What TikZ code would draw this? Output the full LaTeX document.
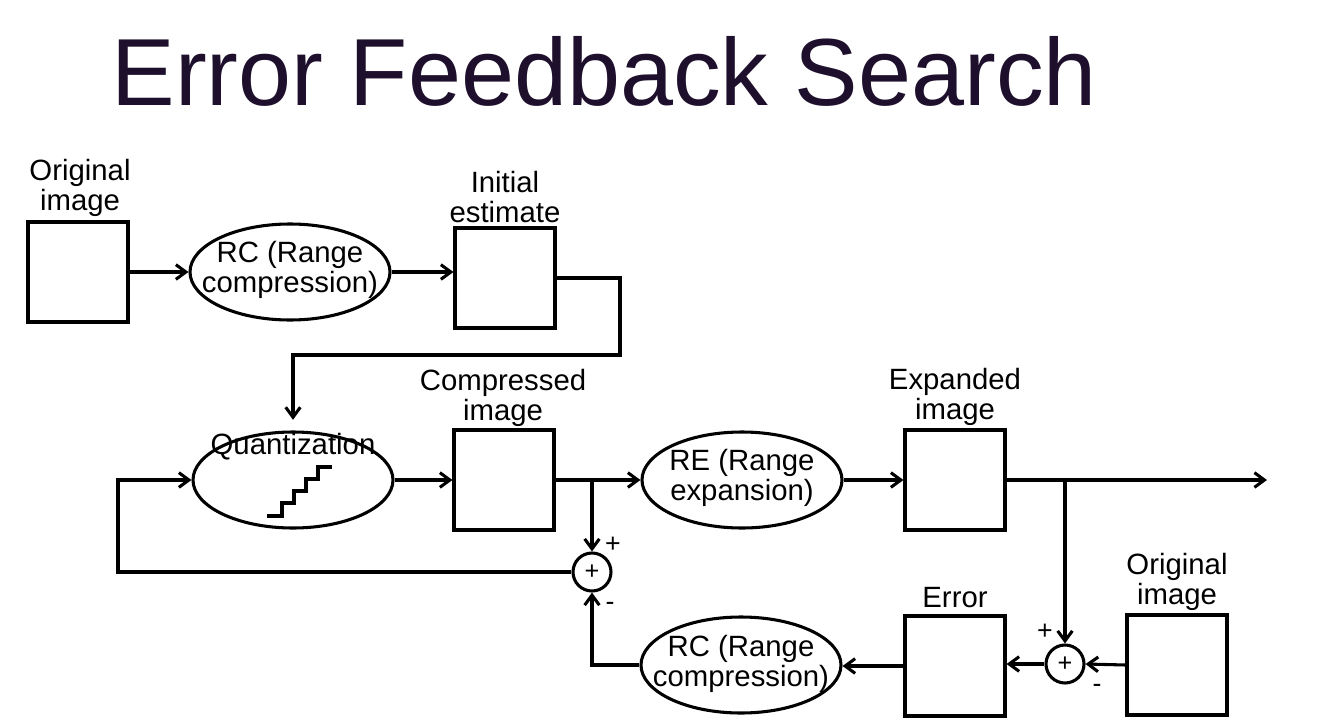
\documentclass[tikz,border=0pt]{standalone}
\usepackage{fontspec}
\setmainfont{Liberation Sans}
\usetikzlibrary{arrows.meta,shapes.geometric}
\definecolor{titlecol}{RGB}{30,15,45}
\begin{document}
\begin{tikzpicture}[x=0.75pt,y=-0.75pt,
  line width=2.3pt,
  lbl/.style={font=\fontsize{22}{22.5}\selectfont,align=center,inner sep=0pt},
  boxn/.style={draw,minimum width=75pt,minimum height=75pt,inner sep=0pt},
  ell/.style={draw,ellipse,minimum width=150pt,minimum height=72pt,inner sep=0pt},
  sumn/.style={draw,circle,minimum size=28.5pt,inner sep=0pt,font=\fontsize{19}{19}\selectfont},
  sgn/.style={font=\fontsize{20}{20}\selectfont,inner sep=0pt},
  arr/.style={-{Straight Barb[length=7.5pt,width=11pt,line width=2.3pt]}}]
\useasboundingbox (0,0) rectangle (1331,721);
% title
\node[anchor=base west,inner sep=0pt,text=titlecol,font=\fontsize{71.5}{71.5}\selectfont] (title) at (110,105) {Error Feedback Search};
% boxes
\node[boxn] (orig1) at (78,272) {};
\node[boxn] (init) at (505,278) {};
\node[boxn] (comp) at (504,480) {};
\node[boxn] (exp) at (955,480) {};
\node[boxn] (err) at (955,666) {};
\node[boxn] (orig2) at (1177,665) {};
% box labels
\node[lbl] (lo1) at (80,188) {Original\\image};
\node[lbl] (lin) at (505,197) {Initial\\estimate};
\node[lbl] (lco) at (503,398) {Compressed\\image};
\node[lbl] (lex) at (955,397) {Expanded\\image};
\node[lbl] (lo2) at (1177,582) {Original\\image};
\node[lbl] (ler) at (955,598) {Error};
% ellipses
\node[ell] (rc1) at (290,272) {};
\node[lbl] (rc1t) at (290,270) {RC (Range\\compression)};
\node[ell] (quant) at (293,480) {};
\node[lbl] (quantt) at (293,447) {Quantization};
\node[ell] (re) at (742,480) {};
\node[lbl] (ret) at (742,478) {RE (Range\\expansion)};
\node[ell] (rc2) at (741,665) {};
\node[lbl] (rc2t) at (741,664) {RC (Range\\compression)};
% staircase
\draw (267,516) -- (282,516) -- (282,503) -- (294,503) -- (294,491) -- (306,491) -- (306,479) -- (318,479) -- (318,467) -- (332,467);
% summing junctions
\node[sumn] (sum1) at (592,572) {+};
\node[sumn] (sum2) at (1065,664) {+};
\node[sgn] (p1) at (613,545) {+};
\node[sgn] (m1) at (610,606) {-};
\node[sgn] (p2) at (1045,632) {+};
\node[sgn] (m2) at (1097,688) {-};
% coordinates
\coordinate (k1) at (620,355);
\coordinate (in) at (118,480);
\coordinate (b1) at (comp.east -| sum1);
\coordinate (b2) at (exp.east -| sum2);
\coordinate (out) at (1267,480);
% connectors
\draw[arr] (orig1.east) -- (rc1.west);
\draw[arr] (rc1.east) -- (init.west |- rc1.east);
\draw[arr,shorten >=8pt] (init.east) -| (k1) -| (quant.north);
\draw[arr] (quant.east) -- (comp.west);
\draw[arr] (comp.east) -- (re.west);
\draw[arr] (b1) -- (sum1.north);
\draw[arr] (re.east) -- (exp.west);
\draw[arr] (exp.east) -- (out);
\draw[arr] (b2) -- (sum2.north);
\draw[arr] (orig2.west) -- (sum2.east);
\draw[arr] (sum2.west) -- (err.east |- sum2.west);
\draw[arr] (err.west) -- (rc2.east |- err.west);
\draw[arr] (rc2.west) -| (sum1.south);
\draw[arr] (sum1.west) -| (in) -- (quant.west);
\end{tikzpicture}
\end{document}
